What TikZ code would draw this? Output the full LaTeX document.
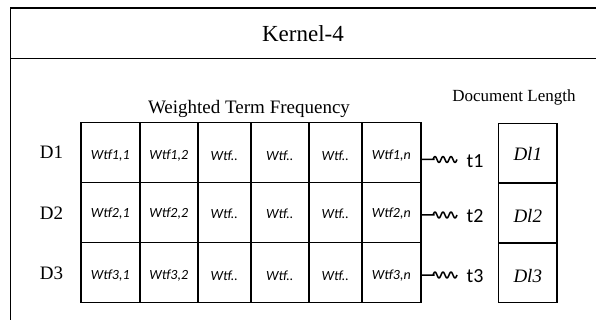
\documentclass[tikz,border=0pt]{standalone}
\usepackage{fontspec}
\setmainfont{Liberation Serif}
\newfontfamily\calfont{Carlito}
\begin{document}
\begin{tikzpicture}[x=1pt,y=-1pt,
  frame/.style={line width=1.8pt},
  cell/.style={draw,line width=1.6pt,minimum width=#1,minimum height=60pt,inner sep=0pt,anchor=north west},
  wtf/.style={font=\calfont\itshape\fontsize{14}{14}\selectfont},
  dl/.style={font=\itshape\fontsize{19}{19}\selectfont},
  rowlab/.style={font=\fontsize{19}{19}\selectfont},
  tlab/.style={font=\calfont\fontsize{20}{20}\selectfont},
  wave/.style={line width=1.5pt,line join=round}]
\useasboundingbox (0,0) rectangle (596,320);
% outer frame and title bar
\draw[frame] (597,8) -- (10.5,8) -- (10.5,322);
\draw[frame] (10.5,58.5) -- (597,58.5);
\node[font=\fontsize{23}{23}\selectfont] (title) at (303,34) {Kernel-4};
% headings
\node[font=\fontsize{19}{19}\selectfont] (wtfhead) at (249,109) {Weighted Term Frequency};
\node[font=\fontsize{17}{17}\selectfont] (dlhead) at (514,97) {Document Length};
% term-frequency grid
\foreach \r/\y in {1/121.7,2/181.7,3/241.7}{
  \node[cell=59pt] (c\r1) at (80,\y) {};
  \node[cell=58pt] (c\r2) at (139,\y) {};
  \node[cell=53pt] (c\r3) at (197,\y) {};
  \node[cell=58pt] (c\r4) at (250,\y) {};
  \node[cell=53pt] (c\r5) at (308,\y) {};
  \node[cell=59pt] (c\r6) at (361,\y) {};
}
% cell labels
\foreach \r/\dy in {1/3,2/1,3/3}{
  \node[wtf] at ([yshift=-\dy pt]c\r1.center) {Wtf\r,1};
  \node[wtf] at ([yshift=-\dy pt]c\r2.center) {Wtf\r,2};
  \node[wtf] at ([yshift=-\dy pt]c\r3.center) {Wtf..};
  \node[wtf] at ([yshift=-\dy pt]c\r4.center) {Wtf..};
  \node[wtf] at ([yshift=-\dy pt]c\r5.center) {Wtf..};
  \node[wtf] at ([yshift=-\dy pt]c\r6.center) {Wtf\r,\textit{n}};
}
% document labels
\node[rowlab] (D1) at (51.5,152.5) {D1};
\node[rowlab] (D2) at (51.5,213) {D2};
\node[rowlab] (D3) at (51.5,273) {D3};
% document-length column
\node[cell=58.5pt,minimum height=59.7pt] (L1) at (497.7,122.7) {};
\node[cell=58.5pt,minimum height=59.7pt] (L2) at (497.7,182.4) {};
\node[cell=58.5pt,minimum height=59.7pt] (L3) at (497.7,242.1) {};
\node[dl] at ([yshift=-1pt]L1.center) {Dl1};
\node[dl] at ([yshift=-3pt]L2.center) {Dl2};
\node[dl] at ([yshift=-3pt]L3.center) {Dl3};
% term labels with wavy connectors
\foreach \r/\y in {1/159.5,2/215,3/275}{
  \node[tlab] (t\r) at (475,\y+1.5) {t\r};
  \coordinate (s\r) at (c\r6.east |- 0,\y);
  \draw[wave] (s\r) -- ++(13,0)
     plot[domain=0:24,samples=49,smooth] ({433+\x},{\y-3*sin(\x*45)});
}
\end{tikzpicture}
\end{document}
